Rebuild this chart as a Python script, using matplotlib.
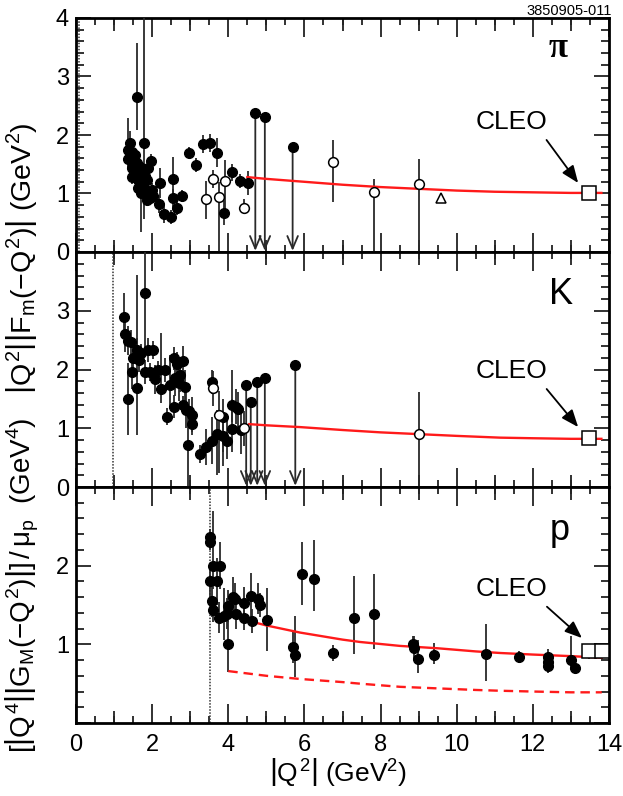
import matplotlib
matplotlib.use("Agg")
import matplotlib.pyplot as plt
from matplotlib.ticker import MultipleLocator, FuncFormatter, FixedLocator, NullFormatter

plt.rcParams['font.family'] = ['Liberation Sans', 'DejaVu Sans']
plt.rcParams['mathtext.fontset'] = 'custom'
plt.rcParams['mathtext.rm'] = 'Liberation Sans'
plt.rcParams['mathtext.it'] = 'Liberation Sans'
plt.rcParams['mathtext.bf'] = 'Liberation Sans:bold'

# ---------------- pion data ----------------
pi_x = [1.37, 1.37, 1.42, 1.46, 1.46, 1.46, 1.51, 1.55, 1.59, 1.59, 1.60, 1.64, 1.64, 1.68,
        1.70, 1.73, 1.77, 1.79, 1.81, 1.82, 1.86, 1.86, 1.90, 1.94, 1.96, 1.99, 2.03, 2.19,
        2.21, 2.32, 2.49, 2.56, 2.56, 2.64, 2.79, 2.98, 3.14, 3.33, 3.52, 3.70, 3.90, 4.10,
        4.31, 4.52]
pi_y = [1.74, 1.59, 1.86, 1.71, 1.43, 1.29, 1.57, 1.65, 2.65, 1.52, 1.35, 1.23, 1.09, 1.45,
        1.00, 1.34, 1.12, 1.87, 1.00, 1.30, 1.23, 0.89, 1.43, 0.92, 1.56, 1.06, 0.95, 0.82,
        1.18, 0.65, 0.60, 1.25, 0.92, 0.75, 0.96, 1.70, 1.48, 1.85, 1.86, 1.70, 0.67, 1.36,
        1.21, 1.18]
pi_lo = [0.30, 0.15, 0.20, 0.15, 0.15, 0.12, 0.12, 0.10, 0.56, 0.15, 0.10, 0.10, 0.12, 0.10,
         0.65, 0.15, 0.15, 1.30, 0.12, 0.20, 0.30, 0.10, 0.15, 0.10, 0.12, 0.12, 0.12, 0.15,
         0.25, 0.15, 0.12, 0.40, 0.15, 0.12, 0.10, 0.10, 0.12, 0.15, 0.15, 0.25, 0.20, 0.15,
         0.12, 0.20]
pi_hi = [0.55, 0.15, 0.20, 0.15, 0.15, 0.12, 0.12, 0.10, 0.92, 0.15, 0.10, 0.10, 0.12, 0.10,
         0.30, 0.15, 0.15, 2.50, 0.12, 0.20, 0.25, 0.10, 0.15, 0.10, 0.12, 0.12, 0.12, 0.15,
         0.25, 0.15, 0.12, 0.38, 0.15, 0.12, 0.10, 0.10, 0.12, 0.15, 0.15, 0.25, 0.20, 0.15,
         0.12, 0.20]
pi_open_x = [3.41, 3.60, 3.76, 3.91, 4.40, 6.75, 7.84, 9.00]
pi_open_y = [0.90, 1.25, 0.94, 1.21, 0.76, 1.53, 1.03, 1.16]
pi_open_lo = [0.34, 0.15, 0.94, 0.49, 0.10, 0.67, 1.03, 1.16]
pi_open_hi = [0.32, 0.15, 0.25, 0.36, 0.15, 0.39, 0.22, 0.43]
pi_ul_x = [4.71, 4.96, 5.69]
pi_ul_y = [2.37, 2.31, 1.79]
pi_tri_x = [9.60]
pi_tri_y = [0.92]
pi_cleo_x = [13.48]
pi_cleo_y = [1.01]
pi_cleo_err = [0.10]
pi_curve_x = [4.5, 5.0, 6.0, 7.0, 8.0, 9.0, 10.0, 11.0, 12.0, 13.0, 13.8]
pi_curve_y = [1.28, 1.25, 1.20, 1.15, 1.11, 1.08, 1.05, 1.03, 1.02, 1.01, 1.01]
pi_thr = 0.078

# ---------------- kaon data ----------------
k_x = [1.27, 1.30, 1.36, 1.37, 1.44, 1.46, 1.49, 1.59, 1.59, 1.66, 1.72, 1.80, 1.82, 1.90,
       1.94, 2.03, 2.08, 2.16, 2.22, 2.34, 2.40, 2.47, 2.58, 2.58, 2.60, 2.64, 2.70, 2.73,
       2.80, 2.80, 2.86, 2.89, 2.93, 2.98, 3.04, 3.06, 3.26, 3.41, 3.56, 3.58, 3.71, 3.85,
       3.87, 3.96, 4.09, 4.09, 4.19, 4.26, 4.33]
k_y = [2.90, 2.60, 2.49, 1.49, 2.47, 1.96, 2.19, 1.69, 2.33, 2.16, 2.28, 3.30, 1.96, 2.33,
       1.96, 2.33, 1.83, 1.99, 1.66, 1.99, 1.20, 1.74, 2.19, 1.37, 1.85, 2.10, 1.77, 1.91,
       2.15, 1.40, 1.70, 1.31, 0.71, 1.30, 1.08, 1.23, 0.56, 0.68, 1.79, 0.79, 0.91, 1.20,
       0.86, 0.78, 0.99, 1.40, 1.37, 1.32, 0.97]
k_lo = [0.35, 0.30, 0.25, 0.60, 0.20, 0.30, 0.20, 0.80, 0.20, 0.20, 0.15, 1.00, 0.20, 0.20,
        0.15, 0.15, 0.25, 0.15, 0.23, 0.20, 0.15, 0.40, 0.20, 0.20, 0.30, 0.20, 0.30, 0.30,
        0.25, 0.15, 0.30, 0.30, 0.71, 0.20, 0.20, 0.30, 0.15, 0.30, 0.20, 0.40, 0.70, 0.60,
        0.50, 0.30, 0.40, 0.30, 0.30, 0.30, 0.40]
k_hi = [0.40, 0.30, 0.25, 0.62, 0.20, 0.30, 0.20, 1.92, 0.20, 0.20, 0.15, 0.70, 0.20, 0.20,
        0.15, 0.15, 0.25, 0.15, 0.96, 0.20, 0.15, 0.50, 0.20, 0.20, 0.30, 0.20, 0.30, 0.30,
        0.25, 0.15, 0.30, 0.30, 0.55, 0.20, 0.20, 0.30, 0.15, 0.30, 0.20, 0.40, 0.40, 0.30,
        0.40, 0.40, 0.50, 0.60, 0.30, 0.30, 0.40]
k_open_x = [3.59, 3.76, 4.40, 9.00]
k_open_y = [1.68, 1.23, 1.00, 0.90]
k_open_lo = [0.30, 1.00, 0.30, 0.90]
k_open_hi = [0.30, 0.40, 0.30, 0.72]
k_ul_x = [4.47, 4.59, 4.76, 4.96, 5.76]
k_ul_y = [1.74, 1.45, 1.78, 1.86, 2.08]
k_cleo_x = [13.48]
k_cleo_y = [0.84]
k_curve_x = [4.55, 5.0, 5.88, 7.0, 8.0, 9.0, 10.0, 11.14, 12.0, 13.0, 13.8]
k_curve_y = [1.07, 1.05, 1.02, 0.97, 0.93, 0.90, 0.87, 0.84, 0.83, 0.82, 0.82]
k_thr = 0.975

# ---------------- proton data ----------------
p_x = [3.52, 3.52, 3.61, 3.78, 3.52, 3.71, 3.56, 3.59, 3.76, 3.89, 3.96, 4.00, 4.00, 4.13,
       4.18, 4.20, 4.40, 4.40, 4.60, 4.61, 4.79, 4.83, 5.01, 5.71, 5.76, 5.94, 6.25, 6.74,
       7.29, 7.84, 8.84, 8.89, 8.99, 9.41, 10.78, 11.63, 12.41, 12.41, 12.39, 12.99, 13.11]
p_y = [2.36, 2.30, 2.00, 2.00, 1.80, 1.80, 1.55, 1.44, 1.34, 1.36, 1.39, 1.49, 1.00, 1.60,
       1.58, 1.39, 1.53, 1.33, 1.61, 1.30, 1.58, 1.50, 1.31, 0.96, 0.86, 1.90, 1.83, 0.89,
       1.34, 1.39, 1.01, 0.95, 0.81, 0.87, 0.88, 0.84, 0.84, 0.78, 0.73, 0.80, 0.70]
p_lo = [0.10, 0.10, 0.30, 0.30, 0.20, 0.30, 0.20, 0.15, 0.20, 0.30, 0.20, 0.20, 0.35, 0.25,
        0.25, 0.20, 0.20, 0.15, 0.30, 0.15, 0.20, 0.15, 0.40, 0.20, 0.28, 0.40, 0.40, 0.10,
        0.46, 0.45, 0.10, 0.15, 0.18, 0.12, 0.34, 0.08, 0.10, 0.10, 0.10, 0.10, 0.05]
p_hi = [0.10, 0.10, 0.70, 0.30, 0.20, 0.30, 0.20, 0.15, 0.20, 0.35, 0.20, 0.20, 0.30, 0.25,
        0.20, 0.20, 0.20, 0.15, 0.30, 0.15, 0.20, 0.15, 0.40, 0.20, 0.50, 0.40, 0.50, 0.10,
        0.53, 0.50, 0.10, 0.15, 0.25, 0.15, 0.38, 0.08, 0.10, 0.10, 0.10, 0.30, 0.05]
p_cleo_x = [13.48, 13.82]
p_cleo_y = [0.91, 0.91]
p_cleo_err = [0.10, 0.0]
p_curve_x = [4.22, 4.6, 5.0, 5.88, 7.0, 7.46, 8.51, 9.5, 10.5, 11.14, 12.0, 13.0, 13.81]
p_curve_y = [1.39, 1.29, 1.24, 1.15, 1.06, 1.03, 0.98, 0.95, 0.91, 0.89, 0.87, 0.85, 0.83]
p_dash_x = [4.0, 5.0, 5.88, 7.0, 7.46, 8.51, 9.5, 10.5, 11.14, 12.0, 13.0, 13.81]
p_dash_y = [0.66, 0.60, 0.56, 0.52, 0.50, 0.46, 0.44, 0.42, 0.41, 0.40, 0.39, 0.39]
p_thr = 3.52

odd_ticks = [1, 3, 5, 7, 9, 11, 13]

W, H = 623, 796
fig = plt.figure(figsize=(W / 100, H / 100), dpi=100)

def frac_rect(top_px, bot_px):
    l, r = 76, 609
    return [l / W, 1 - bot_px / H, (r - l) / W, (bot_px - top_px) / H]

ax1 = fig.add_axes(frac_rect(18, 252))
ax2 = fig.add_axes(frac_rect(252, 487))
ax3 = fig.add_axes(frac_rect(487, 723))

RED = '#ff1a1a'
ECOL = '#2a2a2a'
MS = 7.0

def style(ax, ymax, ylabels):
    ax.set_xlim(0, 14)
    ax.set_ylim(0, ymax)
    for s in ax.spines.values():
        s.set_linewidth(2.0)
    ax.xaxis.set_major_locator(MultipleLocator(2))
    ax.xaxis.set_minor_locator(MultipleLocator(0.5))
    ax.yaxis.set_major_locator(MultipleLocator(1))
    ax.yaxis.set_minor_locator(MultipleLocator(0.2))
    ax.tick_params(axis='both', which='both', direction='in', top=True, right=True,
                   width=1.3, colors='#222222', labelcolor='black', labelsize=17)
    ax.tick_params(axis='x', which='major', length=14, pad=8)
    ax.tick_params(axis='x', which='minor', length=5)
    ax.tick_params(axis='y', which='major', length=11, pad=5)
    ax.tick_params(axis='y', which='minor', length=5.5)
    ax.yaxis.set_major_formatter(FuncFormatter(
        lambda v, p: ('%d' % round(v)) if round(v) in ylabels and abs(v - round(v)) < 1e-6 else ''))
    # medium-length ticks at odd integers (bottom and top)
    for loc in ('bottom', 'top'):
        sec = ax.secondary_xaxis(loc)
        sec.xaxis.set_major_locator(FixedLocator(odd_ticks))
        sec.xaxis.set_major_formatter(NullFormatter())
        sec.xaxis.set_minor_locator(FixedLocator([]))
        sec.tick_params(axis='x', which='major', direction='in', length=9, width=1.3,
                        colors='#222222')
        sec.spines[loc].set_visible(False)

def errs(ax, x, y, lo, hi, filled=True):
    ax.errorbar(x, y, yerr=[lo, hi], fmt='none', ecolor=ECOL, elinewidth=1.3, capsize=0, zorder=3)
    if filled:
        ax.plot(x, y, 'o', ms=MS, mfc='black', mec='black', zorder=5, clip_on=False)
    else:
        ax.plot(x, y, 'o', ms=MS, mfc='white', mec='black', mew=1.1, zorder=6)

def upper_limits(ax, x, y):
    ax.plot(x, y, 'o', ms=MS, mfc='black', mec='black', zorder=5)
    for xi, yi in zip(x, y):
        ax.annotate('', xy=(xi, 0.02), xytext=(xi, yi),
                    arrowprops=dict(arrowstyle='->,head_length=0.9,head_width=0.38',
                                    lw=1.3, color=ECOL, shrinkA=0, shrinkB=0), zorder=3)

def cleo_label(ax, txy, axy):
    ax.annotate('CLEO', xy=axy, xytext=txy, fontsize=19, ha='center', va='center',
                arrowprops=dict(arrowstyle='-|>,head_length=0.55,head_width=0.22', lw=1.3,
                                color='black', shrinkA=2, shrinkB=0, relpos=(0.97, -0.15)))

# ---- pion ----
style(ax1, 4, [0, 1, 2, 3, 4])
ax1.axvline(pi_thr, color='#333333', lw=1.1, ls=(0, (1, 1)))
ax1.plot(pi_curve_x, pi_curve_y, color=RED, lw=1.7, zorder=4)
errs(ax1, pi_x, pi_y, pi_lo, pi_hi)
errs(ax1, pi_open_x, pi_open_y, pi_open_lo, pi_open_hi, filled=False)
upper_limits(ax1, pi_ul_x, pi_ul_y)
ax1.plot(pi_tri_x, pi_tri_y, '^', ms=7, mfc='white', mec='black', mew=1.1, zorder=6)
ax1.errorbar(pi_cleo_x, pi_cleo_y, yerr=pi_cleo_err, fmt='none', ecolor=ECOL, elinewidth=1.2)
ax1.plot(pi_cleo_x, pi_cleo_y, 's', ms=10, mfc='white', mec='black', mew=1.1, zorder=7)
cleo_label(ax1, (11.43, 2.22), (13.19, 1.18))
ax1.text(12.65, 3.48, 'π', fontsize=25, ha='center', va='center', family='Liberation Serif',
         fontweight='bold')
ax1.tick_params(axis='x', labelbottom=False)

# ---- kaon ----
style(ax2, 4, [0, 1, 2, 3])
ax2.axvline(k_thr, color='#333333', lw=1.1, ls=(0, (1, 1)))
ax2.plot(k_curve_x, k_curve_y, color=RED, lw=1.7, zorder=4)
errs(ax2, k_x, k_y, k_lo, k_hi)
errs(ax2, k_open_x, k_open_y, k_open_lo, k_open_hi, filled=False)
upper_limits(ax2, k_ul_x, k_ul_y)
ax2.plot(k_cleo_x, k_cleo_y, 's', ms=10, mfc='white', mec='black', mew=1.1, zorder=7)
cleo_label(ax2, (11.43, 1.97), (13.19, 1.02))
ax2.text(12.75, 3.28, 'K', fontsize=26, ha='center', va='center')
ax2.tick_params(axis='x', labelbottom=False)

# ---- proton ----
style(ax3, 3, [1, 2])
ax3.axvline(p_thr, color='#333333', lw=1.1, ls=(0, (1, 1)))
ax3.plot(p_curve_x, p_curve_y, color=RED, lw=1.7, zorder=4)
ax3.plot(p_dash_x, p_dash_y, color=RED, lw=1.7, ls=(0, (4, 2.5)), zorder=4)
errs(ax3, p_x, p_y, p_lo, p_hi)
ax3.errorbar(p_cleo_x, p_cleo_y, yerr=p_cleo_err, fmt='none', ecolor=ECOL, elinewidth=1.2)
ax3.plot(p_cleo_x, p_cleo_y, 's', ms=10, mfc='white', mec='black', mew=1.1, zorder=7)
cleo_label(ax3, (11.43, 1.70), (13.29, 1.08))
ax3.text(12.7, 2.45, 'p', fontsize=26, ha='center', va='center')
ax3.xaxis.set_major_formatter(FuncFormatter(lambda v, p: '%d' % round(v)))

fig.text(338 / W, 1 - 772 / H, r'$\left|Q^2\right|$ (GeV$^2$)', fontsize=19, ha='center', va='center')
fig.text(22 / W, 1 - 258 / H, r'$\left|Q^2\right|\left|F_{\rm m}(-Q^2)\right|$ (GeV$^2$)',
         fontsize=20.5, rotation=90, ha='center', va='center')
fig.text(22 / W, 1 - 585 / H,
         r'$[\left|Q^4\right|\left|G_{\rm M}(-Q^2)\right|]\,/\,\mu_{\rm p}$  (GeV$^4$)',
         fontsize=20, rotation=90, ha='center', va='center')
fig.text(612 / W, 1 - 11 / H, '3850905-011', fontsize=10.5, ha='right', va='center')

fig.savefig('out.png', dpi=100)
